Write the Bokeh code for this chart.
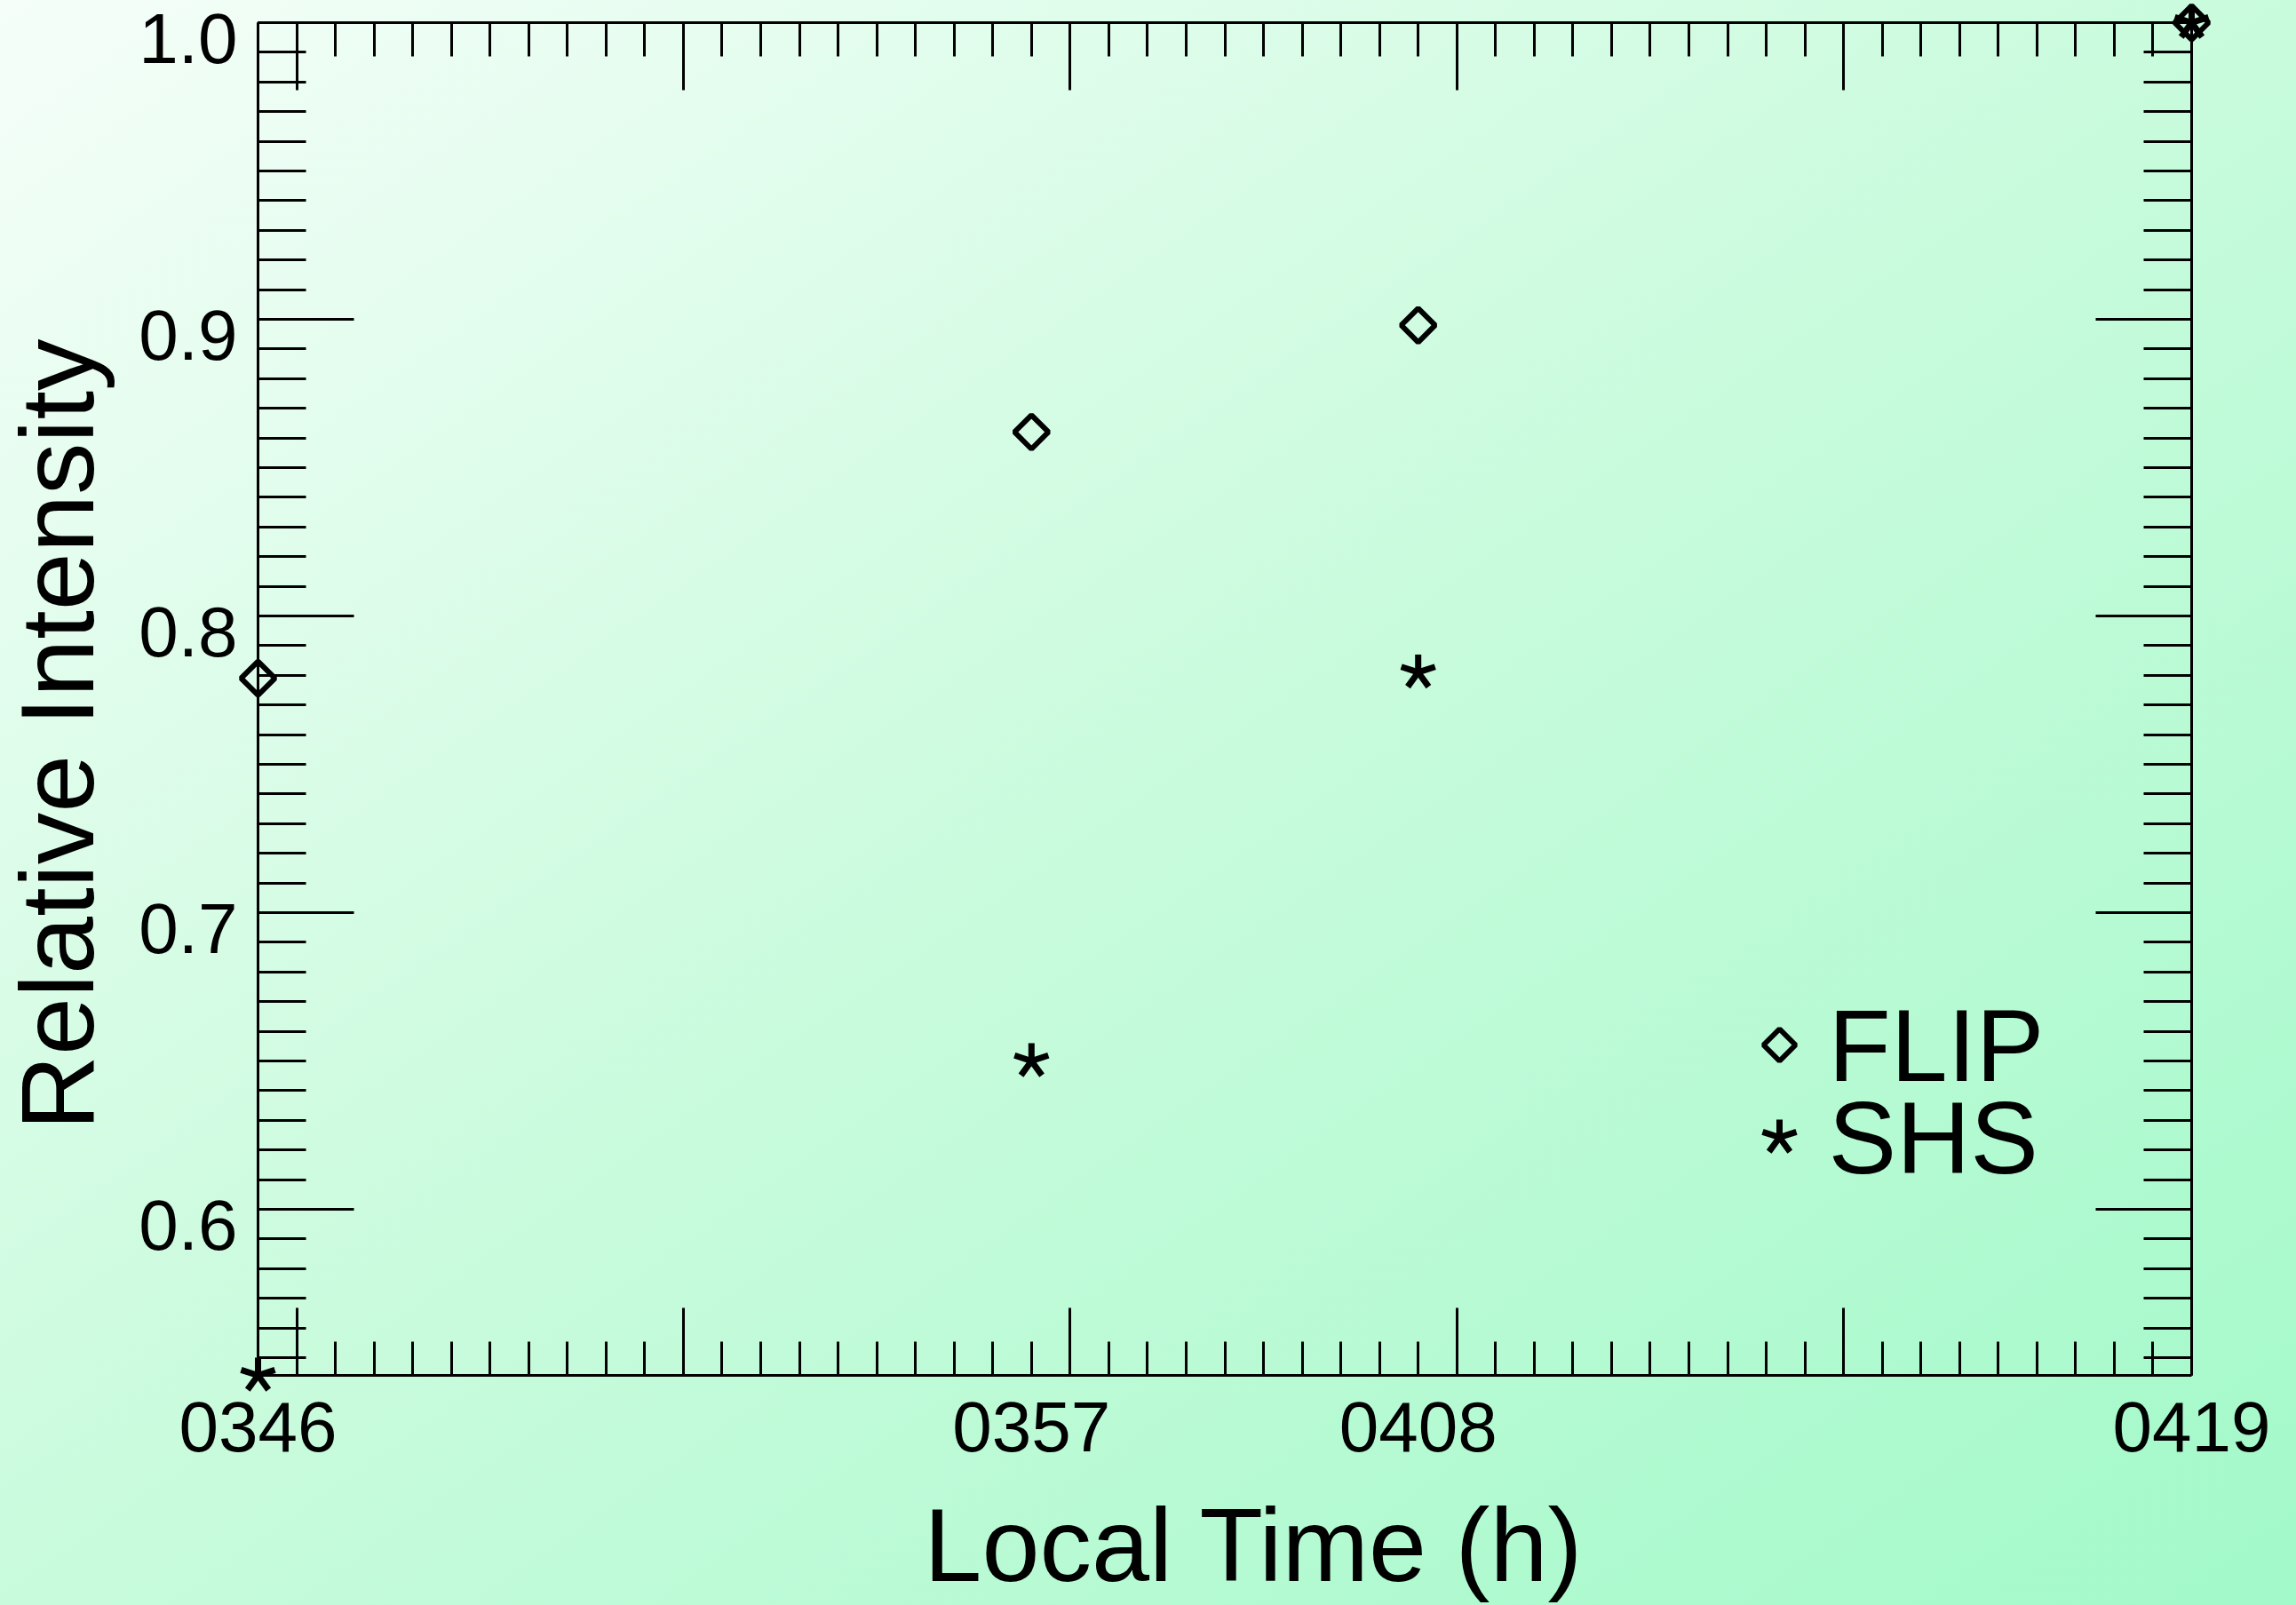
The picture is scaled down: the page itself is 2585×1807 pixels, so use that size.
import numpy as np
from bokeh.plotting import figure
from bokeh.core.properties import value
from bokeh.models import (Range1d, LinearAxis, FixedTicker, Label, PolyAnnotation)
from bokeh.embed import file_html
from bokeh.resources import INLINE

# --- data -------------------------------------------------------------
time_labels = ["0346", "0357", "0408", "0419"]      # local time of each sample
obs_pos = [0.0, 2.0, 3.0, 5.0]                        # position of each sample on the x axis
flip = [0.779, 0.862, 0.898, 1.0]                     # FLIP relative intensity
shs = [0.544, 0.650, 0.781, 1.0]                      # SHS relative intensity

y_major = [0.6, 0.7, 0.8, 0.9, 1.0]
y_labels = ["0.6", "0.7", "0.8", "0.9", "1.0"]
y_minor = [round(v, 2) for v in np.arange(0.55, 1.0001, 0.01)]
x_major = [0.1, 1.1, 2.1, 3.1, 4.1]
x_minor = [round(v, 1) for v in np.arange(0.0, 5.0001, 0.1)]

FONT = "Liberation Sans"

x_lo, x_hi = min(obs_pos), max(obs_pos)
y_lo, y_hi = min(flip + shs), max(flip + shs)

p = figure(width=2585, height=1807, output_backend="svg", toolbar_location=None,
           x_range=Range1d(x_lo, x_hi), y_range=Range1d(y_lo, y_hi),
           x_axis_location=None, y_axis_location=None,
           min_border_left=290, min_border_right=118,
           min_border_top=25, min_border_bottom=259)
p.xgrid.visible = False
p.ygrid.visible = False
p.outline_line_color = None
p.background_fill_color = None
p.border_fill_color = None
p.styles = {"background-image": "linear-gradient(to bottom right, #f5fef9 0%, #c8fbdc 50%, #a2f9c9 100%)"}


def tick_axis(ticker, major_in, minor_in):
    """Axis that only draws its line and inward ticks."""
    return LinearAxis(ticker=ticker,
                      major_tick_in=major_in, major_tick_out=0,
                      minor_tick_in=minor_in, minor_tick_out=0,
                      axis_line_width=3, major_tick_line_width=3, minor_tick_line_width=3,
                      axis_line_color="black", major_tick_line_color="black",
                      minor_tick_line_color="black",
                      major_label_overrides={t: "" for t in ticker.ticks},
                      major_label_text_font_size="0px", major_label_standoff=0)


p.add_layout(tick_axis(FixedTicker(ticks=y_major, minor_ticks=y_minor), 108, 54), "left")
p.add_layout(tick_axis(FixedTicker(ticks=y_major, minor_ticks=y_minor), 108, 54), "right")
p.add_layout(tick_axis(FixedTicker(ticks=x_major, minor_ticks=x_minor), 76, 38), "above")
p.add_layout(tick_axis(FixedTicker(ticks=x_major, minor_ticks=x_minor), 76, 38), "below")

# time labels under the samples
time_axis = LinearAxis(ticker=FixedTicker(ticks=obs_pos, minor_ticks=[]),
                       major_tick_in=0, major_tick_out=0, minor_tick_in=0, minor_tick_out=0,
                       axis_line_color=None, major_tick_line_color=None, minor_tick_line_color=None,
                       major_label_overrides={x: t for x, t in zip(obs_pos, time_labels)},
                       major_label_text_font=FONT, major_label_text_font_size="80px",
                       major_label_text_color="black", major_label_standoff=30)
p.add_layout(time_axis, "below")

# intensity labels, set a little below their ticks
p.text(x=[x_lo] * len(y_major), y=y_major, text=y_labels, x_offset=-23, y_offset=18,
       text_align="right", text_baseline="middle", text_font=value(FONT),
       text_font_size="80px", text_color="black", level="overlay")

# axis titles
p.text(x=[(x_lo + x_hi) / 2], y=[y_lo], text=["Local Time (h)"], x_offset=33, y_offset=191,
       text_align="center", text_baseline="middle", text_font=value(FONT),
       text_font_size="117px", text_color="black", level="overlay")
p.text(x=[x_lo], y=[(y_lo + y_hi) / 2], text=["Relative Intensity"], angle=np.pi / 2,
       x_offset=-226, y_offset=40, text_align="center", text_baseline="middle",
       text_font=value(FONT), text_font_size="117px", text_color="black", level="overlay")

# FLIP: open diamonds
p.scatter(obs_pos, flip, marker="square", angle=np.pi / 4, size=27,
          fill_color=None, line_color="black", line_width=6, level="overlay")

# SHS: five-armed asterisks
arm_angles = np.deg2rad([90, 18, 162, -54, -126])
p.ray(x=np.repeat(obs_pos, len(arm_angles)), y=np.repeat(shs, len(arm_angles)),
      angle=np.tile(arm_angles, len(shs)), length=20, length_units="screen",
      line_color="black", line_width=7, level="overlay")

# legend
key_x, key_r = 1713, 18
flip_key_y, shs_key_y = 372, 268
p.add_layout(PolyAnnotation(xs=[key_x - key_r, key_x, key_x + key_r, key_x],
                            ys=[flip_key_y, flip_key_y + key_r, flip_key_y, flip_key_y - key_r],
                            xs_units="screen", ys_units="screen",
                            fill_alpha=0, line_color="black", line_alpha=1.0, line_width=6,
                            level="overlay"))
star_xs, star_ys = [], []
for a in arm_angles:
    star_xs += [key_x, key_x + 20 * np.cos(a)]
    star_ys += [shs_key_y, shs_key_y + 20 * np.sin(a)]
p.add_layout(PolyAnnotation(xs=star_xs, ys=star_ys, xs_units="screen", ys_units="screen",
                            fill_alpha=0, line_color="black", line_alpha=1.0, line_width=7,
                            level="overlay"))
for name, yy in (("FLIP", flip_key_y), ("SHS", shs_key_y)):
    p.add_layout(Label(x=1768, y=yy, x_units="screen", y_units="screen", text=name,
                       text_font=FONT, text_font_size="115px", text_align="left",
                       text_baseline="middle", text_color="black", level="overlay"))

open("out.html", "w").write(file_html(p, INLINE))
